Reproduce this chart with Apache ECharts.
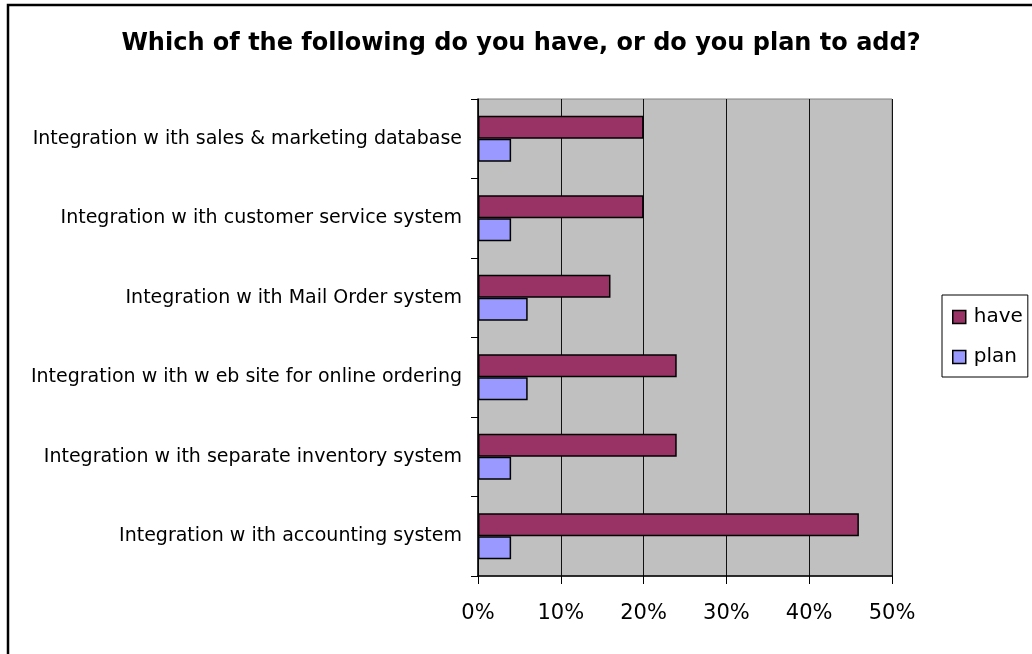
<!DOCTYPE html>
<html>
<head>
<meta charset="utf-8">
<script src="https://cdn.jsdelivr.net/npm/echarts@6/dist/echarts.min.js"></script>
<style>
  html, body { margin: 0; padding: 0; background: #fff; }
  #chart { width: 1032px; height: 654px; }
</style>
</head>
<body>
<div id="chart"></div>
<script>
// Survey categories, listed bottom-to-top as drawn on the category axis
const categories = [
  'Integration w ith accounting system',
  'Integration w ith separate inventory system',
  'Integration w ith w eb site for online ordering',
  'Integration w ith Mail Order system',
  'Integration w ith customer service system',
  'Integration w ith sales & marketing database'
];
// Share of respondents (%)
const haveValues = [46, 24, 24, 16, 20, 20];
const planValues = [4, 4, 6, 6, 4, 4];
const xTicks = [0, 10, 20, 30, 40, 50];

const FONT = '"DejaVu Sans", "Liberation Sans", Arial, sans-serif';

const chart = echarts.init(document.getElementById('chart'));
chart.setOption({
  animation: false,
  backgroundColor: '#ffffff',
  title: {
    text: 'Which of the following do you have, or do you plan to add?',
    left: 516,
    textAlign: 'center',
    top: 27,
    textStyle: { fontFamily: FONT, fontSize: 24, fontWeight: 'bold', color: '#000' }
  },
  legend: {
    orient: 'vertical',
    left: 942,
    top: 295,
    itemWidth: 13,
    itemHeight: 13,
    itemGap: 20,
    backgroundColor: '#fff',
    borderColor: '#000',
    borderWidth: 1,
    padding: [12, 5, 10, 10],
    textStyle: { fontFamily: FONT, fontSize: 20, color: '#000', padding: [0, 0, 0, 3] },
    data: [
      { name: 'have', icon: 'rect', itemStyle: { borderColor: '#000', borderWidth: 1.5 } },
      { name: 'plan', icon: 'rect', itemStyle: { borderColor: '#000', borderWidth: 1.5 } }
    ]
  },
  grid: {
    left: 478,
    right: 140,
    top: 99,
    bottom: 78,
    show: true,
    backgroundColor: '#c0c0c0',
    borderColor: '#808080',
    borderWidth: 1
  },
  xAxis: {
    type: 'value',
    min: 0,
    max: 50,
    interval: 10,
    axisLine: { show: true, lineStyle: { color: '#000', width: 1.5 } },
    axisTick: { show: true, length: 8, lineStyle: { color: '#000' } },
    splitLine: { show: true, lineStyle: { color: '#111', width: 1 } },
    axisLabel: {
      margin: 27,
      fontFamily: FONT,
      fontSize: 21,
      color: '#000',
      formatter: function (v) { return xTicks.indexOf(v) >= 0 ? v + '%' : ''; }
    }
  },
  yAxis: {
    type: 'category',
    data: categories,
    axisLine: { show: true, lineStyle: { color: '#000', width: 1.5 } },
    axisTick: { show: true, length: 7, lineStyle: { color: '#000' } },
    axisLabel: {
      margin: 16,
      fontFamily: FONT,
      fontSize: 19,
      color: '#000'
    }
  },
  series: [
    {
      name: 'have',
      type: 'bar',
      data: haveValues,
      barGap: '0%',
      barCategoryGap: '42%',
      itemStyle: { color: '#993366', borderColor: '#000', borderWidth: 1.5 }
    },
    {
      name: 'plan',
      type: 'bar',
      data: planValues,
      itemStyle: { color: '#9999ff', borderColor: '#000', borderWidth: 1.5 }
    }
  ],
  graphic: [
    {
      type: 'rect',
      shape: { x: 8, y: 5, width: 1100, height: 700 },
      style: { fill: 'none', stroke: '#000', lineWidth: 2.5 },
      silent: true
    }
  ]
});
</script>
</body>
</html>
